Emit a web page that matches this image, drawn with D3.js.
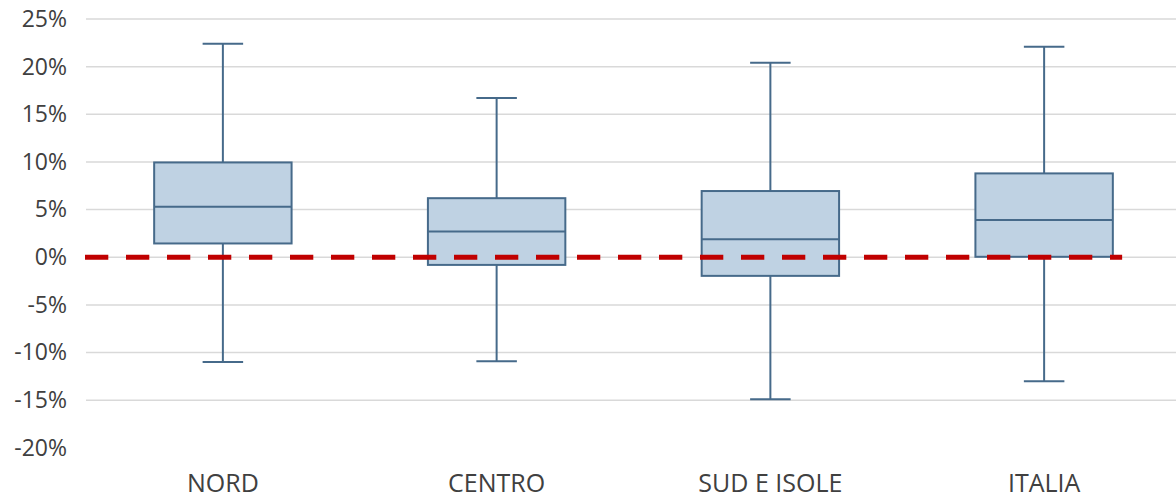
<!DOCTYPE html>
<html>
<head>
<meta charset="utf-8">
<script src="https://cdn.jsdelivr.net/npm/d3@7"></script>
<style>
  html, body { margin: 0; padding: 0; background: #fff; }
  svg { display: block; }
</style>
</head>
<body>
<svg id="chart" width="1176" height="499"></svg>
<script>
const categories = ["NORD", "CENTRO", "SUD E ISOLE", "ITALIA"];
const whiskerMax = [22.4, 16.7, 20.4, 22.1];
const q3Values = [9.95, 6.2, 6.95, 8.8];
const medianValues = [5.3, 2.7, 1.9, 3.9];
const q1Values = [1.45, -0.8, -1.95, 0.05];
const whiskerMin = [-11.0, -10.9, -14.9, -13.0];
const yTicks = [-20, -15, -10, -5, 0, 5, 10, 15, 20, 25];
const referenceValue = 0;

const svg = d3.select("#chart");
const W = 1176, H = 499;
const margin = { left: 86, right: -5, top: 19, bottom: 51 };

const x = d3.scaleBand().domain(categories)
  .range([margin.left, W - margin.right]).paddingInner(0).paddingOuter(0);
const y = d3.scaleLinear().domain([-20, 25]).range([H - margin.bottom - 0.1, margin.top]);

const fontFamily = "'Open Sans', 'Noto Sans', sans-serif";
const textColor = "#404040";
const boxStroke = "#466a8a";
const boxFill = "#bfd2e3";

// gridlines
svg.append("g").selectAll("line")
  .data(yTicks.filter(t => t > -20))
  .join("line")
  .attr("x1", margin.left).attr("x2", W)
  .attr("y1", d => y(d)).attr("y2", d => y(d))
  .attr("stroke", "#d9d9d9").attr("stroke-width", 1.5);

// y axis
const yAxis = d3.axisLeft(y).tickValues(yTicks).tickFormat(d => d + "%").tickSize(0).tickPadding(19);
const gy = svg.append("g").attr("transform", `translate(${margin.left},0)`).call(yAxis);
gy.select(".domain").remove();
gy.selectAll("text").attr("font-family", fontFamily).attr("font-size", 23).attr("fill", textColor);

// x axis
const xAxis = d3.axisBottom(x).tickSize(0).tickPadding(0);
const gx = svg.append("g").attr("transform", `translate(0,${H - 7})`).call(xAxis);
gx.select(".domain").remove();
gx.selectAll("text").attr("font-family", fontFamily).attr("font-size", 25).attr("fill", textColor)
  .attr("dy", "0").attr("y", 0);

const data = categories.map((c, i) => ({
  cat: c, max: whiskerMax[i], q3: q3Values[i], med: medianValues[i], q1: q1Values[i], min: whiskerMin[i]
}));

const bw = x.bandwidth();
const boxW = bw * 0.502;
const capW = bw * 0.148;

const g = svg.append("g");
const items = g.selectAll("g.box").data(data).join("g").attr("class", "box");

// whiskers
items.append("line")
  .attr("x1", d => x(d.cat) + bw / 2).attr("x2", d => x(d.cat) + bw / 2)
  .attr("y1", d => y(d.max)).attr("y2", d => y(d.q3))
  .attr("stroke", boxStroke).attr("stroke-width", 2);
items.append("line")
  .attr("x1", d => x(d.cat) + bw / 2).attr("x2", d => x(d.cat) + bw / 2)
  .attr("y1", d => y(d.q1)).attr("y2", d => y(d.min))
  .attr("stroke", boxStroke).attr("stroke-width", 2);
// caps
items.append("line")
  .attr("x1", d => x(d.cat) + bw / 2 - capW / 2).attr("x2", d => x(d.cat) + bw / 2 + capW / 2)
  .attr("y1", d => y(d.max)).attr("y2", d => y(d.max))
  .attr("stroke", boxStroke).attr("stroke-width", 2);
items.append("line")
  .attr("x1", d => x(d.cat) + bw / 2 - capW / 2).attr("x2", d => x(d.cat) + bw / 2 + capW / 2)
  .attr("y1", d => y(d.min)).attr("y2", d => y(d.min))
  .attr("stroke", boxStroke).attr("stroke-width", 2);
// box
items.append("rect")
  .attr("x", d => x(d.cat) + bw / 2 - boxW / 2)
  .attr("width", boxW)
  .attr("y", d => y(d.q3))
  .attr("height", d => y(d.q1) - y(d.q3))
  .attr("fill", boxFill).attr("stroke", boxStroke).attr("stroke-width", 2);
// median
items.append("line")
  .attr("x1", d => x(d.cat) + bw / 2 - boxW / 2).attr("x2", d => x(d.cat) + bw / 2 + boxW / 2)
  .attr("y1", d => y(d.med)).attr("y2", d => y(d.med))
  .attr("stroke", boxStroke).attr("stroke-width", 2);

// reference dashed line
svg.append("line")
  .attr("x1", x.range()[0] - 1)
  .attr("x2", x(categories[categories.length - 1]) + bw / 2 + bw * 0.285)
  .attr("y1", y(referenceValue)).attr("y2", y(referenceValue))
  .attr("stroke", "#c00000").attr("stroke-width", 5)
  .attr("stroke-dasharray", "23.3,17.7");
</script>
</body>
</html>
